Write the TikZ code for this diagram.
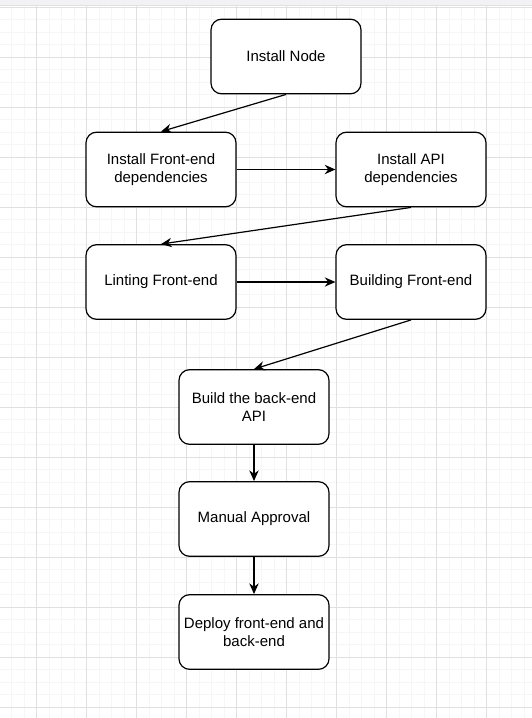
\documentclass[tikz,border=0pt]{standalone}
\usepackage{fontspec}
\setmainfont{Liberation Sans}
\usetikzlibrary{positioning, calc, arrows.meta}

\definecolor{gridminor}{RGB}{246,246,246}
\definecolor{gridmajor}{RGB}{224,224,224}
\definecolor{topbar}{RGB}{242,242,244}

\begin{document}
\begin{tikzpicture}[x=0.75pt,y=-0.75pt,
    stepbox/.style={draw, fill=white, line width=0.9pt, rounded corners=8pt,
                    minimum width=112.5pt, minimum height=56pt, align=center},
    flow/.style={-{Stealth[length=8pt,width=7pt]}, line width=0.9pt}]
\fontsize{11.25pt}{13.5pt}\selectfont
	\useasboundingbox (0,0) rectangle (532,718);
	% grid
	\foreach \gx in {-0.8,11.7,...,532}
	  \draw[gridminor, line width=0.75pt] (\gx,0) -- (\gx,718);
	\foreach \gy in {7.3,19.8,...,718}
	  \draw[gridminor, line width=0.75pt] (0,\gy) -- (532,\gy);
	\foreach \gx in {36.7,86.7,...,532}
	  \draw[gridmajor, line width=0.75pt] (\gx,0) -- (\gx,718);
	\foreach \gy in {7.3,57.3,...,718}
	  \draw[gridmajor, line width=0.75pt] (0,\gy) -- (532,\gy);
	\fill[topbar] (0,0) rectangle (532,5);
	\draw[gridmajor, line width=1.2pt] (0,5.5) -- (532,5.5);

	\node[stepbox] (inode)    at (286,56.5)  {Install Node};
	\node[stepbox] (fedeps)   at (161,169.5) {Install Front-end\\dependencies};
	\node[stepbox] (apideps)  at (411,169.5) {Install API\\dependencies};
	\node[stepbox] (lint)     at (161,282)   {Linting Front-end};
	\node[stepbox] (buildfe)  at (411,282)   {Building Front-end};
	\node[stepbox] (buildapi) at (254,407)   {Build the back-end\\API};
	\node[stepbox] (approval) at (254,519)   {Manual Approval};
	\node[stepbox] (deploy)   at (254,632)   {Deploy front-end and\\back-end};

	\draw[flow] (inode.south) -- (fedeps.north);
	\draw[flow] (fedeps) -- (apideps);
	\draw[flow] (apideps.south) -- (lint.north);
	\draw[flow] (lint) -- (buildfe);
	\draw[flow] (buildfe.south) -- (buildapi.north);
	\draw[flow] (buildapi) -- (approval);
	\draw[flow] (approval) -- (deploy);
\end{tikzpicture}
\end{document}
